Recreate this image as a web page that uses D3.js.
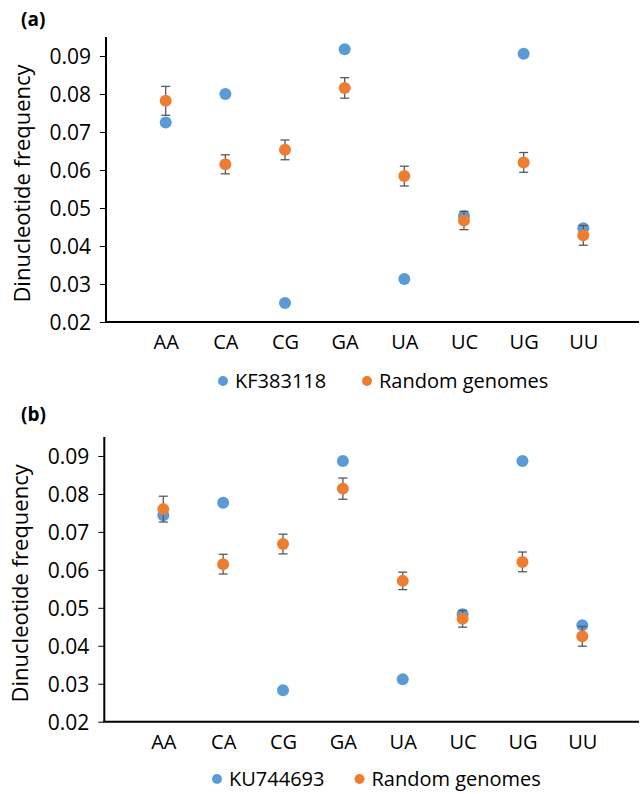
<!DOCTYPE html>
<html><head><meta charset="utf-8">
<script src="https://cdn.jsdelivr.net/npm/d3@7"></script>
<style>body{margin:0;background:#fff}svg{display:block}text{font-family:"Open Sans",sans-serif;fill:#000}</style>
</head><body>
<script>
const categories = ["AA","CA","CG","GA","UA","UC","UG","UU"];
const yTicks = [0.02,0.03,0.04,0.05,0.06,0.07,0.08,0.09];
const yTickLabels = ["0.02","0.03","0.04","0.05","0.06","0.07","0.08","0.09"];
const seriesNamesA = ["KF383118","Random genomes"];
const seriesNamesB = ["KU744693","Random genomes"];
const genomeA = [0.0725,0.0800,0.0250,0.0918,0.0313,0.0479,0.0906,0.0447];
const randomA = [0.0782,0.0615,0.0653,0.0816,0.0584,0.0467,0.0620,0.0428];
const errorA  = [0.0038,0.0025,0.0026,0.0027,0.0026,0.0024,0.0026,0.0026];
const genomeB = [0.0744,0.0777,0.0283,0.0887,0.0312,0.0483,0.0887,0.0454];
const randomB = [0.0760,0.0615,0.0668,0.0814,0.0571,0.0471,0.0621,0.0425];
const errorB  = [0.0034,0.0026,0.0026,0.0028,0.0023,0.0022,0.0026,0.0026];

const BLUE="#5B9BD5", ORANGE="#ED7D31", ERR="#595959";
const svg = d3.select("body").append("svg").attr("width",640).attr("height",794);

function panel(o){
  const g = svg.append("g");
  const x = d3.scalePoint().domain(categories).range([o.first,o.last]);
  const y = d3.scaleLinear().domain([0.02,0.095]).range([o.bottom,o.top]);
  // y axis
  const ya = g.append("g").attr("transform",`translate(${o.axisX},0)`)
    .call(d3.axisLeft(y).tickValues(yTicks).tickFormat((d,i)=>yTickLabels[i]).tickSizeOuter(0).tickSize(6).tickPadding(9));
  ya.select(".domain").remove();
  ya.selectAll("line").attr("stroke","#000").attr("stroke-width",1);
  ya.selectAll("text").attr("font-size",21).attr("font-family","Open Sans").attr("fill","#000").attr("dy","0.35em");
  g.append("line").attr("x1",o.axisX).attr("x2",o.axisX).attr("y1",o.top).attr("y2",o.bottom).attr("stroke","#000").attr("stroke-width",2);
  // x axis
  const xa = g.append("g").attr("transform",`translate(0,${o.bottom})`)
    .call(d3.axisBottom(x).tickSize(0).tickPadding(20));
  xa.select(".domain").remove();
  xa.selectAll("text").attr("font-size",20).attr("font-family","Open Sans").attr("fill","#000").attr("dy","0.35em");
  g.append("line").attr("x1",o.axisX-1).attr("x2",o.xEnd).attr("y1",o.bottom).attr("y2",o.bottom).attr("stroke","#000").attr("stroke-width",2);
  // y title
  g.append("text").attr("transform",`translate(${o.titleX},${(o.top+o.bottom)/2+4}) rotate(-90)`)
    .attr("text-anchor","middle").attr("dy","0.35em").attr("font-size",22).text("Dinucleotide frequency");
  // panel label
  g.append("text").attr("x",21).attr("y",o.labelY).attr("font-size",19).attr("font-weight","bold").text(o.label);
  // genome points
  g.selectAll(".gp").data(o.genome).join("circle").attr("cx",(d,i)=>x(categories[i])).attr("cy",d=>y(d)).attr("r",6).attr("fill",BLUE);
  // error bars
  const eb = g.append("g").attr("stroke",ERR).attr("stroke-width",1.3);
  o.random.forEach((d,i)=>{
    const cx=x(categories[i]), e=o.err[i];
    eb.append("line").attr("x1",cx).attr("x2",cx).attr("y1",y(d+e)).attr("y2",y(d-e));
    eb.append("line").attr("x1",cx-4.5).attr("x2",cx+4.5).attr("y1",y(d+e)).attr("y2",y(d+e));
    eb.append("line").attr("x1",cx-4.5).attr("x2",cx+4.5).attr("y1",y(d-e)).attr("y2",y(d-e));
  });
  g.selectAll(".rp").data(o.random).join("circle").attr("cx",(d,i)=>x(categories[i])).attr("cy",d=>y(d)).attr("r",6).attr("fill",ORANGE);
  // legend
  const lg = g.append("g");
  lg.append("circle").attr("cx",o.leg1).attr("cy",o.legY).attr("r",5).attr("fill",BLUE);
  lg.append("text").attr("x",o.leg1+12).attr("y",o.legY).attr("dy","0.35em").attr("font-size",20).text(o.names[0]);
  lg.append("circle").attr("cx",o.leg2).attr("cy",o.legY).attr("r",5).attr("fill",ORANGE);
  lg.append("text").attr("x",o.leg2+12).attr("y",o.legY).attr("dy","0.35em").attr("font-size",20).text(o.names[1]);
}

panel({label:"(a)",labelY:26,axisX:106,top:37,bottom:322,first:165.7,last:583.3,xEnd:639,titleX:22,
  genome:genomeA,random:randomA,err:errorA,names:seriesNamesA,legY:381,leg1:223,leg2:367});
panel({label:"(b)",labelY:421,axisX:104.3,top:437,bottom:721.7,first:163.3,last:582.3,xEnd:639,titleX:20,
  genome:genomeB,random:randomB,err:errorB,names:seriesNamesB,legY:779,leg1:217,leg2:359.5});
</script>
</body></html>
